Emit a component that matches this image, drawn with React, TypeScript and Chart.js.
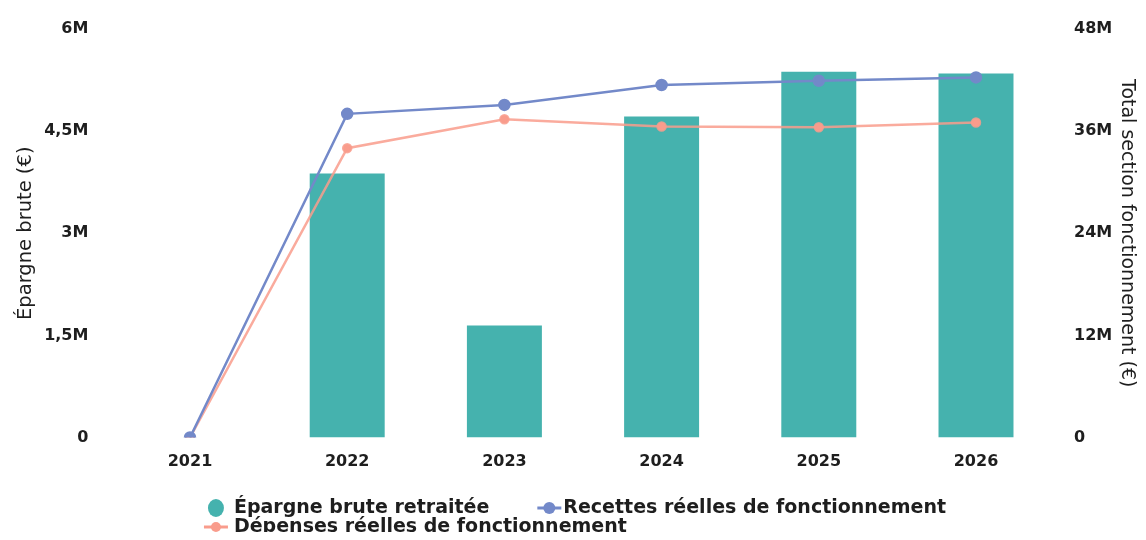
import React, { useEffect, useRef } from "react";
import { Chart, registerables } from "chart.js";

Chart.register(...registerables);

const categories = ["2021", "2022", "2023", "2024", "2025", "2026"];
const epargneBrute = [0, 3876000, 1644000, 4713000, 5371000, 5346000];
const recettes = [0, 38030000, 39080000, 41420000, 41920000, 42310000];
const depenses = [0, 34000000, 37400000, 36540000, 36460000, 37010000];

const leftTicks = [0, 1500000, 3000000, 4500000, 6000000];
const rightTicks = [0, 12000000, 24000000, 36000000, 48000000];

const seriesLabels = [
  "Épargne brute retraitée",
  "Recettes réelles de fonctionnement",
  "Dépenses réelles de fonctionnement",
];

const TEAL = "#45b2ae";
const BLUE = "#7389c9";
const SALMON = "#f99c8c";
const TEXT = "#1e1e1e";
const FONT = "'DejaVu Sans', sans-serif";

function fmtM(v: number): string {
  if (v === 0) return "0";
  const m = v / 1000000;
  return String(m).replace(".", ",") + "M";
}

const legendPlugin = {
  id: "customLegend",
  afterDraw(chart: any) {
    const ctx = chart.ctx as CanvasRenderingContext2D;
    ctx.save();
    ctx.font = `bold 19px ${FONT}`;
    ctx.textBaseline = "middle";
    ctx.textAlign = "left";
    const w1 = ctx.measureText(seriesLabels[0]).width;
    const w2 = ctx.measureText(seriesLabels[1]).width;
    const row1 = 30 + w1 + 72 + w2;
    const x0 = chart.width / 2 + 3 - row1 / 2;
    const y1 = chart.height - 32;
    const y2 = chart.height - 13;

    ctx.fillStyle = TEAL;
    ctx.beginPath();
    ctx.ellipse(x0 + 10, y1, 8, 9, 0, 0, Math.PI * 2);
    ctx.fill();
    ctx.fillStyle = TEXT;
    ctx.fillText(seriesLabels[0], x0 + 28, y1);

    const drawLineIcon = (lx: number, ly: number, color: string, r: number) => {
      ctx.strokeStyle = color;
      ctx.fillStyle = color;
      ctx.lineWidth = 3;
      ctx.beginPath();
      ctx.moveTo(lx, ly);
      ctx.lineTo(lx + 24, ly);
      ctx.stroke();
      ctx.beginPath();
      ctx.arc(lx + 12, ly, r, 0, Math.PI * 2);
      ctx.fill();
    };

    const l2 = x0 + 28 + w1 + 48;
    drawLineIcon(l2, y1, BLUE, 6);
    ctx.fillStyle = TEXT;
    ctx.fillText(seriesLabels[1], l2 + 26, y1);

    drawLineIcon(x0 - 2, y2, SALMON, 5);
    ctx.fillStyle = TEXT;
    ctx.fillText(seriesLabels[2], x0 + 28, y2);
    ctx.restore();
  },
};

export default function App() {
  const ref = useRef<HTMLCanvasElement | null>(null);

  useEffect(() => {
    if (!ref.current) return;
    const chart = new Chart(ref.current, {
      data: {
        labels: categories,
        datasets: [
          {
            type: "bar",
            label: seriesLabels[0],
            data: epargneBrute,
            backgroundColor: TEAL,
            yAxisID: "y",
            barPercentage: 0.53,
            categoryPercentage: 0.9,
            order: 3,
          },
          {
            type: "line",
            label: seriesLabels[1],
            data: recettes,
            borderColor: BLUE,
            backgroundColor: BLUE,
            borderWidth: 2.5,
            pointRadius: 5,
            pointHoverRadius: 5,
            yAxisID: "y1",
            order: 1,
          },
          {
            type: "line",
            label: seriesLabels[2],
            data: depenses,
            borderColor: "rgba(249,156,140,0.85)",
            backgroundColor: SALMON,
            borderWidth: 2.5,
            pointRadius: 4,
            pointHoverRadius: 4,
            yAxisID: "y1",
            order: 2,
          },
        ],
      } as any,
      options: {
        animation: false,
        responsive: true,
        maintainAspectRatio: false,
        layout: { padding: { top: 29, left: 0, right: 0, bottom: 0 } },
        plugins: {
          tooltip: { enabled: false },
          legend: { display: false },
        },
        scales: {
          x: {
            grid: { display: false },
            border: { display: false },
            afterFit: (axis: any) => {
              axis.height = 102.5;
            },
            ticks: {
              color: TEXT,
              padding: 7,
              font: { family: FONT, size: 16, weight: "bold" },
            },
          },
          y: {
            position: "left",
            min: 0,
            max: 6000000,
            afterBuildTicks: (axis: any) => {
              axis.ticks = leftTicks.map((v) => ({ value: v }));
            },
            afterFit: (axis: any) => {
              axis.width = 111.4;
            },
            grid: { display: false },
            border: { display: false },
            ticks: {
              color: TEXT,
              padding: 15,
              font: { family: FONT, size: 16, weight: "bold" },
              callback: (v: any) => fmtM(Number(v)),
            },
            title: {
              display: true,
              text: "Épargne brute (€)",
              color: TEXT,
              font: { family: FONT, size: 19.5 },
              padding: { top: 14.5, bottom: 8 },
            },
          },
          y1: {
            position: "right",
            min: 0,
            max: 48000000,
            afterBuildTicks: (axis: any) => {
              axis.ticks = rightTicks.map((v) => ({ value: v }));
            },
            afterFit: (axis: any) => {
              axis.width = 91.4;
            },
            grid: { display: false },
            border: { display: false },
            ticks: {
              color: TEXT,
              padding: 11.4,
              font: { family: FONT, size: 16, weight: "bold" },
              callback: (v: any) => fmtM(Number(v)),
            },
            title: {
              display: true,
              text: "Total section fonctionnement (€)",
              color: TEXT,
              font: { family: FONT, size: 19 },
              padding: { top: 8, bottom: 7 },
            },
          },
        },
      } as any,
      plugins: [legendPlugin],
    });
    return () => chart.destroy();
  }, []);

  return (
    <div style={{ width: 1146, height: 540, margin: -8, position: "relative" }}>
      <canvas ref={ref} />
    </div>
  );
}
